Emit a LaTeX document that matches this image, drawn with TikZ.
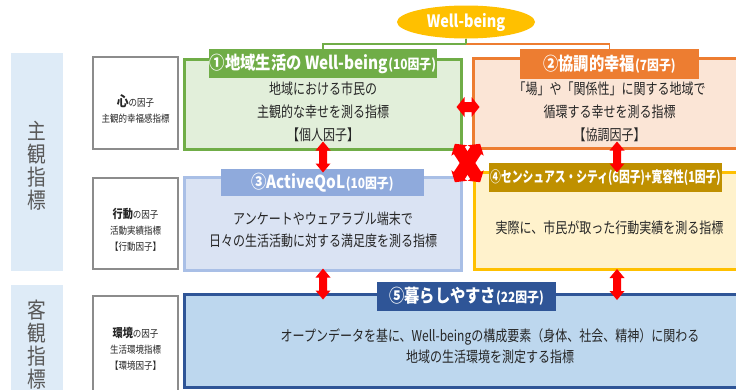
\documentclass[tikz,border=0pt]{standalone}
\usepackage{fontspec}
\newfontfamily\jp[FakeStretch=0.85]{Noto Sans CJK JP}
\newfontfamily\jpb[FakeStretch=0.8]{Noto Sans CJK JP}
\newfontfamily\jpn[FakeStretch=0.72]{Noto Sans CJK JP}
\usetikzlibrary{shapes.geometric}
\definecolor{wbY}{HTML}{FFC000}
\definecolor{gB}{HTML}{70AD47}\definecolor{gF}{HTML}{E2EFDA}
\definecolor{oB}{HTML}{ED7D31}\definecolor{oF}{HTML}{FBE5D6}
\definecolor{bB}{HTML}{A9BFE6}\definecolor{bL}{HTML}{8FAADC}\definecolor{bF}{HTML}{DAE3F3}
\definecolor{yB}{HTML}{FFC000}\definecolor{yF}{HTML}{FFF2CC}\definecolor{yL}{HTML}{BF9000}
\definecolor{dB}{HTML}{2F5597}\definecolor{dF}{HTML}{BDD7EE}
\definecolor{panel}{HTML}{DEEBF7}\definecolor{panelT}{HTML}{595959}
\definecolor{greyB}{HTML}{8C8C8C}\definecolor{txt}{HTML}{262626}
\tikzset{
  bigbox/.style={draw, line width=3pt, inner sep=0, outer sep=0},
  labbox/.style={inner sep=0, outer sep=0, text=white, font=\jp\bfseries\fontsize{18}{20}\selectfont},
  body/.style={inner sep=0, align=center, text=txt, font=\jpb\fontsize{15}{23}\selectfont},
  greybox/.style={draw=greyB, fill=white, line width=2.5pt, inner sep=0, minimum width=85, align=center},
  small/.style={inner sep=0, align=center, text=txt, font=\jp\fontsize{10}{16}\selectfont},
  panelbox/.style={fill=panel, inner sep=0, minimum width=52},
  vtext/.style={inner sep=0, align=center, text=panelT, font=\jp\fontsize{22}{23}\selectfont},
}
\newcommand{\sm}[1]{{\fontsize{14}{14}\selectfont #1}}
% \fatarrow{x}{y}{angle}{length}{head width}{shaft width}{head length}
\newcommand{\fatarrow}[7]{%
  \fill[red, shift={(#1,#2)}, rotate=#3]
    (-#4/2,0) -- (-#4/2+#7,#5/2) -- (-#4/2+#7,#6/2) -- (#4/2-#7,#6/2) -- (#4/2-#7,#5/2)
    -- (#4/2,0) -- (#4/2-#7,-#5/2) -- (#4/2-#7,-#6/2) -- (-#4/2+#7,-#6/2) -- (-#4/2+#7,-#5/2) -- cycle;}
\begin{document}
\begin{tikzpicture}[x=1pt,y=-1pt]
\useasboundingbox (0,0) rectangle (736,389);
\clip (0,0) rectangle (736,389);
\fill[white] (0,0) rectangle (736,389);

% left panels
\node[panelbox, minimum height=218] (p1) at (37,162) {};
\node[panelbox, minimum height=120] (p2) at (37,345) {};
\node[vtext] (v1) at (37,166) {主\\観\\指\\標};
\node[vtext] (v2) at (37,345) {客\\観\\指\\標};

% grey boxes
\node[greybox, minimum height=92] (g1) at (135.5,103) {};
\node[small] (t1) at (135.5,109) {{\bfseries\fontsize{14}{14}\selectfont 心}の因子\\主観的幸福感指標};
\node[greybox, minimum height=91] (g2) at (135.5,223.5) {};
\node[small] (t2) at (135.5,229.5) {{\bfseries\fontsize{12}{12}\selectfont 行動}の因子\\活動実績指標\\【行動因子】};
\node[greybox, minimum height=110] (g3) at (135.5,351) {};
\node[small] (t3) at (135.5,348.5) {{\bfseries\fontsize{12}{12}\selectfont 環境}の因子\\生活環境指標\\【環境因子】};

% main boxes
\node[bigbox, draw=gB, fill=gF, minimum width=277, minimum height=90] (b1) at (322.5,104) {};
\node[bigbox, draw=oB, fill=oF, minimum width=307, minimum height=90] (b2) at (626.5,103) {};
\node[bigbox, draw=bB, fill=bF, minimum width=277, minimum height=93] (b3) at (322.5,223.5) {};
\node[bigbox, draw=yB, fill=yF, minimum width=306, minimum height=97] (b4) at (627,220.5) {};
\node[bigbox, draw=dB, fill=dF, minimum width=596, minimum height=93] (b5) at (482,340.5) {};

% ellipse
\node[ellipse, fill=wbY, inner sep=0, minimum width=138, minimum height=33, text=white,
      font=\jp\bfseries\fontsize{17}{17}\selectfont] (wb) at (466,22) {Well-being};

% labels
\node[labbox, fill=gB, minimum width=228, minimum height=29] (l1) at (323,63.5) {①地域生活の Well-being\sm{(10因子)}};
\node[labbox, fill=oB, minimum width=179, minimum height=30] (l2) at (609.5,64) {②協調的幸福\sm{(7因子)}};
\node[labbox, fill=bL, minimum width=203, minimum height=27] (l3) at (322.5,182.5) {③ActiveQoL\sm{(10因子)}};
\node[labbox, fill=yL, minimum width=233, minimum height=29, font=\jpn\bfseries\fontsize{15}{17}\selectfont] (l4) at (605.5,177.5) {④センシュアス・シティ(6因子)+寛容性(1因子)};
\node[labbox, fill=dB, minimum width=179, minimum height=29] (l5) at (466.5,296.5) {⑤暮らしやすさ\sm{(22因子)}};

% connectors from the ellipse
\coordinate (j) at (466,44);
\draw[gB, line width=1.2pt] (wb.south) -- (j) -| (l1.north);
\draw[oB, line width=1.2pt] (j) -| (l2.north);
\draw[gB, line width=1.2pt] (wb.south) -- (j);

% body texts
\node[body] (x1) at (323,112) {地域における市民の\\主観的な幸せを測る指標\\【個人因子】};
\node[body] (x2) at (609.5,112) {「場」や「関係性」に関する地域で\\循環する幸せを測る指標\\【協調因子】};
\node[body, font=\jpb\fontsize{15}{22}\selectfont] (x3) at (323,230) {アンケートやウェアラブル端末で\\日々の生活活動に対する満足度を測る指標};
\node[body] (x4) at (609.5,228) {実際に、市民が取った行動実績を測る指標};
\node[body, font=\jpb\fontsize{15}{21}\selectfont] (x5) at (490,346.5) {オープンデータを基に、Well-beingの構成要素（身体、社会、精神）に関わる\\地域の生活環境を測定する指標};

% red arrows
\fatarrow{468}{107}{0}{23}{20}{10}{8}
\fatarrow{323}{157}{90}{31}{15}{8}{9}
\fatarrow{617}{157}{90}{31}{15}{8}{9}
\fatarrow{323}{284}{90}{31}{15}{8}{9}
\fatarrow{617}{284.5}{90}{31}{15}{8}{9}
\fatarrow{467.5}{163}{56.7}{46}{19}{13}{8}
\fatarrow{467.5}{163}{-56.7}{46}{19}{13}{8}
\end{tikzpicture}
\end{document}
